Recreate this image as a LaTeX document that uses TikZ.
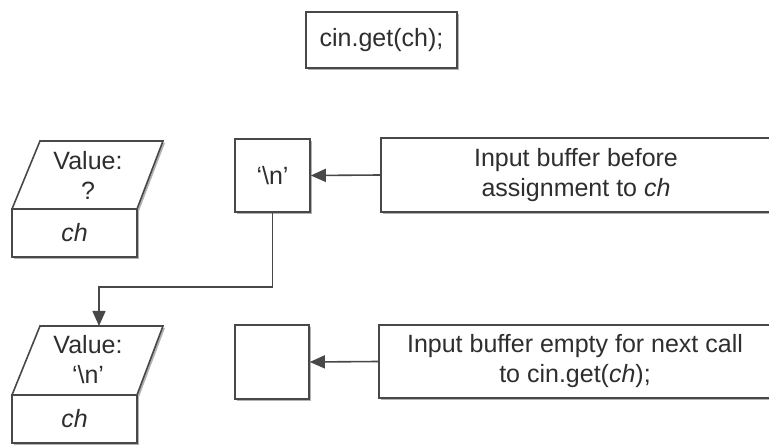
\documentclass[tikz,border=0pt]{standalone}
\usepackage{fontspec}
\setmainfont{Liberation Sans}
\usetikzlibrary{shadows,arrows.meta}
\definecolor{ln}{HTML}{484848}
\definecolor{tx}{HTML}{2E2E2E}
\begin{document}
\begin{tikzpicture}[x=1pt,y=1pt, font=\fontsize{25}{30}\selectfont, text=tx,
  box/.style={draw=ln, line width=1.6pt, fill=white,
    drop shadow={shadow xshift=2pt, shadow yshift=-2pt, fill=black, opacity=0.3},
    inner sep=0pt, align=center},
  lbl/.style={align=center, inner sep=0pt},
  conn/.style={draw=ln, line width=1.6pt, -{Triangle[length=15pt,width=13pt]}}]
\useasboundingbox (0,0) rectangle (769,445);
\clip (0,0) rectangle (769,445);

% top statement
\node[box, minimum width=151pt, minimum height=56pt] (call) at (381.5,405) {cin.get(ch);};

% variable ch before
\draw[box] (12,236) -- (137,236) -- (163,304) -- (40,304) -- cycle;
\node[lbl] (val1) at (88,270) {Value:\\?};
\node[box, minimum width=125pt, minimum height=48pt] (ch1) at (74.5,212) {\itshape ch};

% variable ch after
\draw[box] (12,50) -- (137,50) -- (163,119) -- (40,119) -- cycle;
\node[lbl] (val2) at (88,85) {Value:\\‘\textbackslash n’};
\node[box, minimum width=125pt, minimum height=48pt] (ch2) at (74.5,26) {\itshape ch};
\coordinate (p2top) at (99,119);

% buffers
\node[box, minimum width=75pt, minimum height=73pt] (nl) at (272.5,269.5) {‘\textbackslash n’};
\node[box, minimum width=74pt, minimum height=74pt] (b2) at (272,83) {};

% descriptions
\node[box, minimum width=390pt, minimum height=74pt] (rb1) at (576,270)
  {Input buffer before\\assignment to \textit{ch}};
\node[box, minimum width=392pt, minimum height=73pt] (rb2) at (575,83.5)
  {Input buffer empty for next call\\to cin.get(\textit{ch});};

% connectors
\draw[conn] (rb1.west) -- (nl.east);
\draw[conn] (rb2.west) -- (b2.east);
\coordinate (turn) at (0,158);
\draw[conn] (nl.south) |- (turn -| p2top) -- (p2top);
\end{tikzpicture}
\end{document}
